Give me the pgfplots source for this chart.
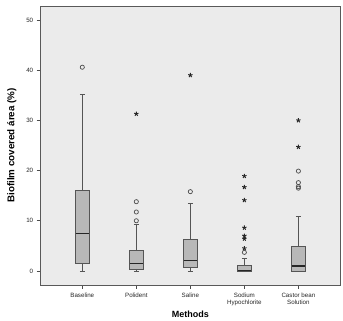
\documentclass[border=0pt]{standalone}
\usepackage{fontspec}
\setmainfont{Liberation Sans}
\usepackage{pgfplots}
\pgfplotsset{compat=1.18}
\usepgfplotslibrary{statistics}
\definecolor{bg}{HTML}{EBEBEB}
\definecolor{boxfill}{HTML}{B8B8B8}
\definecolor{boxdraw}{HTML}{555555}
\begin{document}
\begin{tikzpicture}
\begin{axis}[
  scale only axis, width=299.3pt, height=279pt,
  xmin=0.23, xmax=5.77, ymin=-2.8, ymax=52.8,
  axis background/.style={fill=bg},
  axis line style={draw=black!65, line width=0.6pt},
  xtick={1,2,3,4,5},
  xticklabels={Baseline, Polident, Saline, {Sodium\\Hypochlorite}, {Castor bean\\Solution}},
  xticklabel style={align=center, font=\fontsize{6.2}{7.5}\selectfont, text=black!85},
  ytick={0,10,20,30,40,50},
  yticklabel style={font=\fontsize{6.2}{7}\selectfont, text=black!85},
  /pgf/number format/assume math mode=true,
  tick align=outside, tick pos=left, major tick length=4pt,
  tick style={black!70, line width=0.6pt},
  xlabel={\textbf{Methods}}, xlabel style={font=\fontsize{9}{10}\selectfont, yshift=2pt},
  ylabel={\textbf{Biofilm covered área (\%)}}, ylabel style={font=\fontsize{9.8}{11}\selectfont, yshift=3pt},
  boxplot/draw direction=y,
  boxplot/every box/.style={fill=boxfill, draw=boxdraw, line width=0.7pt},
  boxplot/every whisker/.style={draw=boxdraw, line width=0.7pt},
  boxplot/every median/.style={draw=black!85, line width=1.3pt},
]
\addplot[boxplot prepared={median=7.4, lower quartile=1.5, upper quartile=16.1, lower whisker=0, upper whisker=35.1, draw position=1, box extend=0.25, whisker extend=0.09}, draw=boxdraw] coordinates {};
\addplot[boxplot prepared={median=1.5, lower quartile=0.27, upper quartile=4.05, lower whisker=0, upper whisker=9.2, draw position=2, box extend=0.25, whisker extend=0.09}, draw=boxdraw] coordinates {};
\addplot[boxplot prepared={median=2.05, lower quartile=0.7, upper quartile=6.2, lower whisker=0, upper whisker=13.4, draw position=3, box extend=0.25, whisker extend=0.09}, draw=boxdraw] coordinates {};
\addplot[boxplot prepared={median=0.1, lower quartile=0, upper quartile=1.05, lower whisker=0, upper whisker=2.5, draw position=4, box extend=0.25, whisker extend=0.09}, draw=boxdraw] coordinates {};
\addplot[boxplot prepared={median=1.0, lower quartile=0, upper quartile=5.0, lower whisker=0, upper whisker=10.8, draw position=5, box extend=0.25, whisker extend=0.09}, draw=boxdraw] coordinates {};
% mild outliers
\addplot[only marks, mark=o, mark size=2.1pt, mark options={draw=black!70, line width=0.7pt}] coordinates {
 (1,40.6) (2,10.0) (2,11.75) (2,13.8) (3,15.8) (4,3.7) (5,16.5) (5,16.8) (5,17.6) (5,19.9)};
% extreme outliers
\addplot[only marks, mark=star, mark size=2.3pt, mark options={draw=black!85, line width=0.9pt}] coordinates {
 (2,31.3) (3,39.0) (4,4.5) (4,6.4) (4,7.0) (4,8.6) (4,14.1) (4,16.7) (4,18.9) (5,24.7) (5,30.0)};
\end{axis}
\path (current axis.south west) ++(-40.7pt,-33pt) coordinate (bbA);
\path (current axis.north east) ++(3pt,6pt) coordinate (bbB);
\path (bbA) rectangle (bbB);
\end{tikzpicture}
\end{document}
